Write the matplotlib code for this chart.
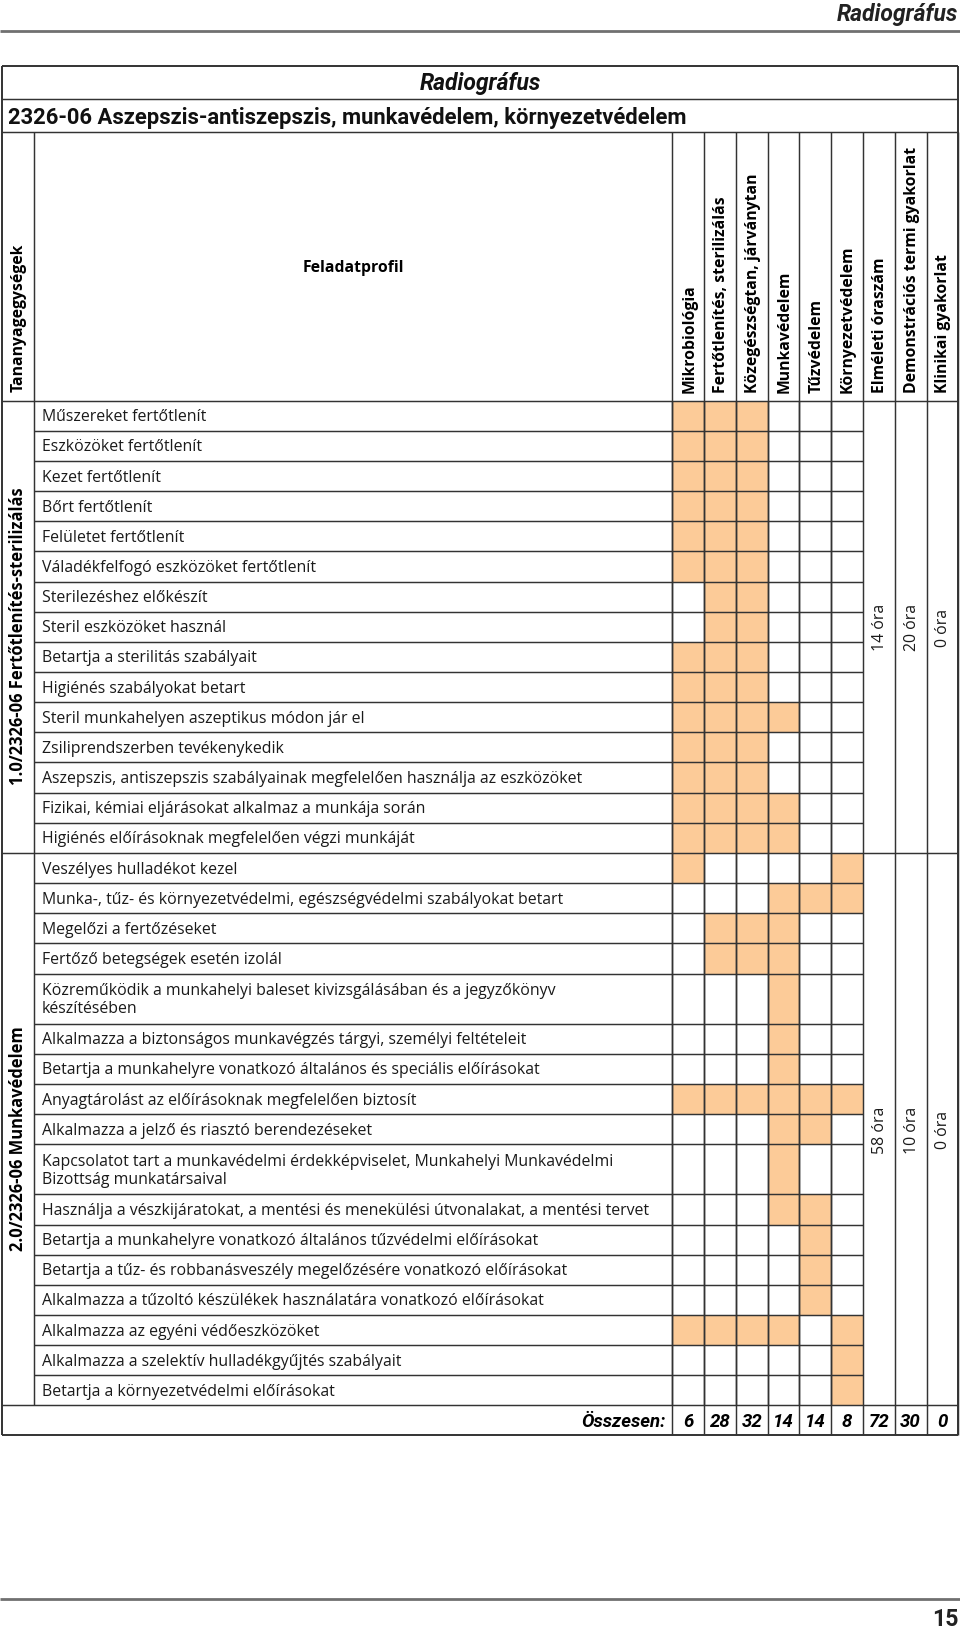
import matplotlib
matplotlib.use("Agg")
import matplotlib.pyplot as plt
from matplotlib import font_manager as fm

# ---------------- data ----------------
page_title = "Radiográfus"
table_title = "Radiográfus"
module_title = "2326-06 Aszepszis-antiszepszis, munkavédelem, környezetvédelem"
left_header = "Tananyagegységek"
task_header = "Feladatprofil"
column_headers = ["Mikrobiológia", "Fertőtlenítés, sterilizálás",
                  "Közegészségtan, járványtan", "Munkavédelem", "Tűzvédelem",
                  "Környezetvédelem", "Elméleti óraszám",
                  "Demonstrációs termi gyakorlat", "Klinikai gyakorlat"]

section_names = ["1.0/2326-06 Fertőtlenítés-sterilizálás",
                 "2.0/2326-06 Munkavédelem"]

section1_tasks = [
    "Műszereket fertőtlenít",
    "Eszközöket fertőtlenít",
    "Kezet fertőtlenít",
    "Bőrt fertőtlenít",
    "Felületet fertőtlenít",
    "Váladékfelfogó eszközöket fertőtlenít",
    "Sterilezéshez előkészít",
    "Steril eszközöket használ",
    "Betartja a sterilitás szabályait",
    "Higiénés szabályokat betart",
    "Steril munkahelyen aszeptikus módon jár el",
    "Zsiliprendszerben tevékenykedik",
    "Aszepszis, antiszepszis szabályainak megfelelően használja az eszközöket",
    "Fizikai, kémiai eljárásokat alkalmaz a munkája során",
    "Higiénés előírásoknak megfelelően végzi munkáját",
]
section1_marks = [
    [0, 1, 2], [0, 1, 2], [0, 1, 2], [0, 1, 2], [0, 1, 2], [0, 1, 2],
    [1, 2], [1, 2], [0, 1, 2], [0, 1, 2], [0, 1, 2, 3], [0, 1, 2],
    [0, 1, 2], [0, 1, 2, 3], [0, 1, 2, 3],
]
section1_hours = ["14 óra", "20 óra", "0 óra"]

section2_tasks = [
    "Veszélyes hulladékot kezel",
    "Munka-, tűz- és környezetvédelmi, egészségvédelmi szabályokat betart",
    "Megelőzi a fertőzéseket",
    "Fertőző betegségek esetén izolál",
    "Közreműködik a munkahelyi baleset kivizsgálásában és a jegyzőkönyv\nkészítésében",
    "Alkalmazza a biztonságos munkavégzés tárgyi, személyi feltételeit",
    "Betartja a munkahelyre vonatkozó általános és speciális előírásokat",
    "Anyagtárolást az előírásoknak megfelelően biztosít",
    "Alkalmazza a jelző és riasztó berendezéseket",
    "Kapcsolatot tart a munkavédelmi érdekképviselet, Munkahelyi Munkavédelmi\nBizottság munkatársaival",
    "Használja a vészkijáratokat, a mentési és menekülési útvonalakat, a mentési tervet",
    "Betartja a munkahelyre vonatkozó általános tűzvédelmi előírásokat",
    "Betartja a tűz- és robbanásveszély megelőzésére vonatkozó előírásokat",
    "Alkalmazza a tűzoltó készülékek használatára vonatkozó előírásokat",
    "Alkalmazza az egyéni védőeszközöket",
    "Alkalmazza a szelektív hulladékgyűjtés szabályait",
    "Betartja a környezetvédelmi előírásokat",
]
section2_marks = [
    [0, 5], [3, 4, 5], [1, 2, 3], [1, 2, 3], [3], [3], [3],
    [0, 1, 2, 3, 4, 5], [3, 4], [3], [3, 4], [4], [4], [4],
    [0, 1, 2, 3, 5], [5], [5],
]
section2_hours = ["58 óra", "10 óra", "0 óra"]

total_label = "Összesen:"
totals = [6, 28, 32, 14, 14, 8, 72, 30, 0]
page_number = "15"

# ---------------- style / layout ----------------
names = {f.name for f in fm.fontManager.ttflist}
BODY = "Open Sans" if "Open Sans" in names else "DejaVu Sans"
if "Liberation Sans Narrow" in names:
    COND = "Liberation Sans Narrow"
elif "Roboto" in names:
    COND = "Roboto"
else:
    COND = BODY

FILL = "#FCCB98"
LINE = "#333333"
W, H = 960, 1631

X0, X1 = 1.5, 958.3
XL = 33.5
XC = 672.3
NC = len(column_headers)
CW = (X1 - XC) / NC
Y_TOP = 66.7
Y_R1 = 100.0
Y_R2 = 133.3
Y_HB = 401.7
ROW = 30.15
DROW = 50.1
FOOT = 30.0
LW = 1.05

fig = plt.figure(figsize=(W / 100, H / 100), dpi=100)
ax = fig.add_axes([0, 0, 1, 1])
ax.set_xlim(0, W)
ax.set_ylim(H, 0)
ax.axis("off")
renderer = fig.canvas.get_renderer()


def fit_size(text, target, family, weight="normal", style="normal"):
    """font size whose rendered width equals target pixels"""
    t = ax.text(0, 0, text, fontsize=10, family=family, weight=weight,
                style=style)
    w = t.get_window_extent(renderer).width
    t.remove()
    return 10 * target / w


FS_BODY = fit_size(section1_tasks[12], 543, BODY)
FS_HEAD = fit_size(column_headers[7], 245, BODY, "bold")
FS_SUB = fit_size(module_title, 678, COND, "bold")
FS_TITLE = fit_size(table_title, 122, COND, "bold", "italic")
FS_TOT = fit_size(total_label, 84, COND, "bold", "italic")


def colx(i):
    return XC + i * CW


def hline(y, xa, xb, lw=LW, color=LINE):
    ax.plot([xa, xb], [y, y], color=color, lw=lw, solid_capstyle="butt")


def vline(x, ya, yb, lw=LW, color=LINE):
    ax.plot([x, x], [ya, yb], color=color, lw=lw, solid_capstyle="butt")


# page header
ax.text(X1, 14, page_title, ha="right", va="center", fontsize=FS_TITLE,
        family=COND, weight="bold", style="italic", color="#222222")
hline(31.5, 0, W, lw=2.0, color="#707070")

# table title rows
ax.text((X0 + X1) / 2, (Y_TOP + Y_R1) / 2, table_title, ha="center",
        va="center", fontsize=FS_TITLE, family=COND, weight="bold",
        style="italic", color="#111111")
ax.text(8, (Y_R1 + Y_R2) / 2 + 1, module_title, ha="left", va="center",
        fontsize=FS_SUB, family=COND, weight="bold", color="#111111")

# header row
ax.text((XL + X0) / 2 + 1, Y_HB - 10, left_header, rotation=90, ha="center",
        va="bottom", fontsize=FS_HEAD, family=BODY, weight="bold")
ax.text((XL + XC) / 2, (Y_R2 + Y_HB) / 2, task_header, ha="center",
        va="center", fontsize=FS_HEAD, family=BODY, weight="bold")
for i, lab in enumerate(column_headers):
    ax.text(colx(i) + CW / 2 + 1, Y_HB - 9, lab, rotation=90, ha="center",
            va="bottom", fontsize=FS_HEAD, family=BODY, weight="bold")

# sections
sections = [
    (section_names[0], section1_tasks, section1_marks, section1_hours),
    (section_names[1], section2_tasks, section2_marks, section2_hours),
]
y = Y_HB
sec_bounds = []
for name, tasks, marks, hours in sections:
    y_start = y
    row_bounds = []
    for t, m in zip(tasks, marks):
        h = DROW if "\n" in t else ROW
        row_bounds.append((y, y + h))
        for c in m:
            ax.bar(colx(c), h, width=CW, bottom=y, align="edge",
                   color=FILL, edgecolor="none", lw=0)
        ax.text(42, y + h / 2 + 0.5, t, ha="left", va="center",
                fontsize=FS_BODY, family=BODY, color="#1a1a1a",
                linespacing=1.2)
        y += h
    y_end = y
    sec_bounds.append((y_start, y_end))
    for (ya, yb) in row_bounds[:-1]:
        hline(yb, XL, colx(6))
    for i in range(6):
        vline(colx(i), y_start, y_end)
    for k, txt in enumerate(hours):
        ax.text(colx(6 + k) + CW / 2 + 1, (y_start + y_end) / 2, txt,
                rotation=90, ha="center", va="center", fontsize=FS_BODY,
                family=BODY, color="#1a1a1a")
    ax.text((X0 + XL) / 2 + 1, (y_start + y_end) / 2 + 8, name, rotation=90,
            ha="center", va="center", fontsize=FS_HEAD * 1.05, family=BODY,
            weight="bold")

y_body_end = y
y_foot = y_body_end + FOOT

# footer row
ax.text(colx(0) - 7, y_body_end + FOOT / 2 + 1, total_label, ha="right",
        va="center", fontsize=FS_TOT, family=COND, weight="bold",
        style="italic")
for i, v in enumerate(totals):
    ax.text(colx(i) + CW / 2, y_body_end + FOOT / 2 + 1, str(v), ha="center",
            va="center", fontsize=FS_TOT, family=COND, weight="bold",
            style="italic")

# structural lines
for yy in (Y_R1, Y_R2, Y_HB):
    hline(yy, X0, X1)
for (ya, yb) in sec_bounds:
    hline(yb, X0, X1)
vline(XL, Y_R2, y_body_end)
for i in range(NC + 1):
    vline(colx(i), Y_R2, y_foot)
hline(Y_TOP, X0, X1, lw=1.4)
hline(y_foot, X0, X1, lw=1.4)
vline(X0, Y_TOP, y_foot, lw=1.4)
vline(X1, Y_TOP, y_foot, lw=1.4)

# page footer
hline(1600, 0, W, lw=2.0, color="#707070")
ax.text(X1, 1620, page_number, ha="right", va="center", fontsize=FS_SUB * 1.05,
        family=COND, weight="bold", color="#222222")

fig.savefig("out.png", dpi=100)
